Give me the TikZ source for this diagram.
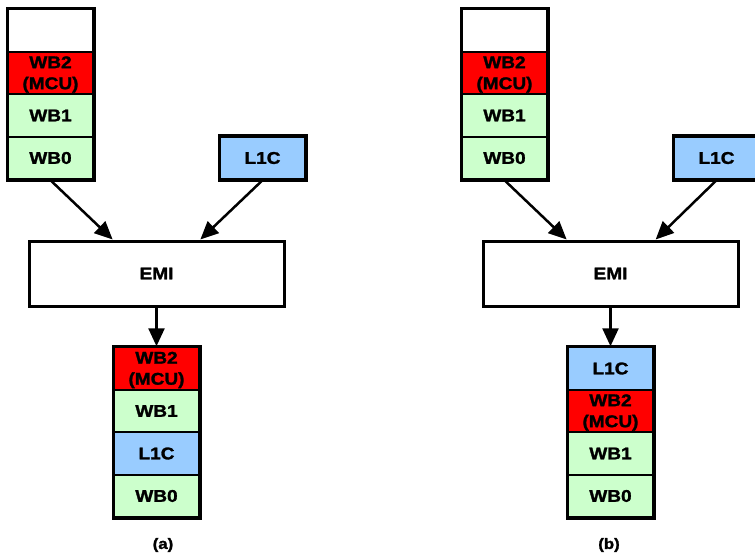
\documentclass[tikz,border=0pt]{standalone}
\usepackage{fontspec}
\setmainfont{Liberation Sans}[FakeStretch=1.12,BoldFeatures={FakeBold=1.6}]
\usetikzlibrary{arrows.meta,calc}
\definecolor{mcured}{HTML}{FF0000}
\definecolor{wbgreen}{HTML}{CCFFCC}
\definecolor{lcblue}{HTML}{99CCFF}
\begin{document}
\begin{tikzpicture}[x=1pt,y=-1pt,
  cell/.style={draw=black,line width=2pt,inner sep=0pt,
    minimum width=85pt,minimum height=42.5pt,align=center,
    font=\fontsize{17}{21}\selectfont\bfseries},
  emptycell/.style={cell,fill=white},
  redcell/.style={cell,fill=mcured,
    label={[font=\fontsize{17}{21}\selectfont\bfseries,align=center,
      inner sep=0pt,yshift=-1.5pt]center:WB2\\(MCU)}},
  greencell/.style={cell,fill=wbgreen},
  bluecell/.style={cell,fill=lcblue},
  emibox/.style={draw=black,line width=3pt,fill=white,inner sep=0pt,
    minimum width=255pt,minimum height=65pt,
    font=\fontsize{17}{21}\selectfont\bfseries},
  outline/.style={draw=black,line width=3pt},
  flow/.style={line width=2.5pt,-{Triangle[length=18pt,width=16pt]}},
  caption/.style={font=\fontsize{15}{17}\selectfont\bfseries}
]
\clip (0,0) rectangle (755,557);
\fill[white] (0,0) rectangle (755,557);

% ---------- (a) ----------
\node[emptycell] (a0) at (50.5,30.5) {};
\node[redcell]   (a1) at (50.5,73)   {};
\node[greencell] (a2) at (50.5,115.5) {WB1};
\node[greencell] (a3) at (50.5,158)  {WB0};
\draw[outline] (a0.north west) rectangle (a3.south east);

\node[bluecell] (al1c) at (262.5,158) {L1C};
\draw[outline] (al1c.north west) rectangle (al1c.south east);

\node[emibox] (aemi) at (156.5,273.5) {EMI};

\node[redcell]   (b1) at (156.5,368.5) {};
\node[greencell] (b2) at (156.5,411)   {WB1};
\node[bluecell]  (b3) at (156.5,453.5) {L1C};
\node[greencell] (b4) at (156.5,496)   {WB0};
\draw[outline] (b1.north west) rectangle (b4.south east);

\draw[flow] (a3.south) -- ($(aemi.north west)!0.33!(aemi.north east)$);
\draw[flow] (al1c.south) -- ($(aemi.north west)!0.67!(aemi.north east)$);
\draw[flow] (aemi.south) -- (b1.north);

\node[caption] (capa) at (163,545) {(a)};

% ---------- (b) ----------
\node[emptycell] (c0) at (504.5,30.5) {};
\node[redcell]   (c1) at (504.5,73)   {};
\node[greencell] (c2) at (504.5,115.5) {WB1};
\node[greencell] (c3) at (504.5,158)  {WB0};
\draw[outline] (c0.north west) rectangle (c3.south east);

\node[bluecell] (cl1c) at (716.5,158) {L1C};
\draw[outline] (cl1c.north west) rectangle (cl1c.south east);

\node[emibox] (cemi) at (610.5,273.5) {EMI};

\node[bluecell]  (d1) at (610.5,368.5) {L1C};
\node[redcell]   (d2) at (610.5,411)   {};
\node[greencell] (d3) at (610.5,453.5) {WB1};
\node[greencell] (d4) at (610.5,496)   {WB0};
\draw[outline] (d1.north west) rectangle (d4.south east);

\draw[flow] (c3.south) -- ($(cemi.north west)!0.33!(cemi.north east)$);
\draw[flow] (cl1c.south) -- ($(cemi.north west)!0.675!(cemi.north east)$);
\draw[flow] (cemi.south) -- (d1.north);

\node[caption] (capb) at (609,545) {(b)};
\end{tikzpicture}
\end{document}
